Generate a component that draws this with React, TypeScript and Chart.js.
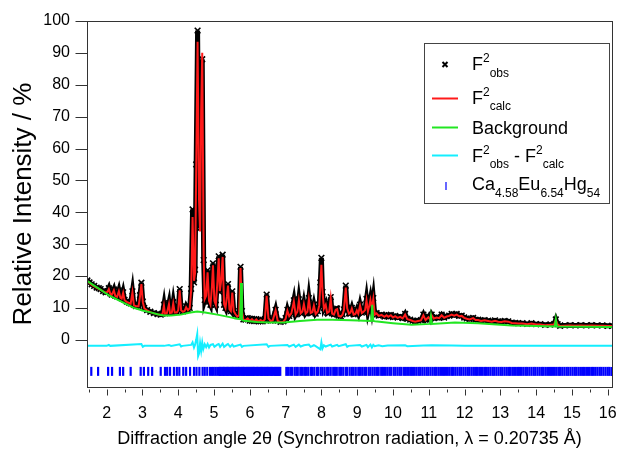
import React, { useEffect, useRef } from 'react';
import { Chart, registerables } from 'chart.js';
Chart.register(...registerables);

const FONT = "'Liberation Sans', Arial, Helvetica, sans-serif";

// 2θ grid of the observed / calculated profile
const obsX = [
  1.46, 1.52, 1.58, 1.65, 1.72, 1.78, 1.83, 1.90, 1.97, 2.02,
  2.06, 2.10, 2.14, 2.20, 2.24, 2.29, 2.34, 2.38, 2.42, 2.46,
  2.50, 2.56, 2.62, 2.67, 2.72, 2.76, 2.82, 2.89, 2.93, 2.97,
  3.01, 3.05, 3.13, 3.22, 3.32, 3.42, 3.51, 3.56, 3.60, 3.63,
  3.68, 3.74, 3.77, 3.82, 3.86, 3.90, 3.96, 4.00, 4.04, 4.08,
  4.13, 4.18, 4.22, 4.27, 4.32, 4.36, 4.40, 4.44, 4.47, 4.50,
  4.54, 4.58, 4.61, 4.64, 4.67, 4.71, 4.74, 4.78, 4.82, 4.86,
  4.90, 4.94, 4.97, 5.01, 5.05, 5.09, 5.13, 5.16, 5.20, 5.24,
  5.28, 5.32, 5.36, 5.39, 5.43, 5.47, 5.51, 5.55, 5.60, 5.65,
  5.70, 5.74, 5.78, 5.82, 5.88, 5.94, 6.00, 6.06, 6.12, 6.18,
  6.24, 6.30, 6.36, 6.42, 6.47, 6.52, 6.58, 6.64, 6.72, 6.78,
  6.86, 6.94, 7.00, 7.05, 7.10, 7.16, 7.23, 7.28, 7.33, 7.37,
  7.42, 7.47, 7.51, 7.56, 7.61, 7.65, 7.70, 7.75, 7.79, 7.84,
  7.90, 7.94, 7.97, 8.00, 8.03, 8.07, 8.12, 8.16, 8.22, 8.26,
  8.30, 8.35, 8.40, 8.44, 8.48, 8.54, 8.59, 8.63, 8.68, 8.72,
  8.77, 8.81, 8.85, 8.90, 8.95, 8.99, 9.03, 9.08, 9.13, 9.17,
  9.22, 9.26, 9.30, 9.34, 9.37, 9.41, 9.45, 9.49, 9.54, 9.60,
  9.68, 9.76, 9.82, 9.87, 9.94, 10.00, 10.06, 10.13, 10.20, 10.27,
  10.34, 10.40, 10.48, 10.55, 10.62, 10.70, 10.78, 10.85, 10.91, 10.99,
  11.04, 11.08, 11.14, 11.22, 11.29, 11.36, 11.43, 11.50, 11.57, 11.64,
  11.71, 11.78, 11.85, 11.92, 11.99, 12.06, 12.14, 12.24, 12.31, 12.38,
  12.46, 12.56, 12.66, 12.76, 12.85, 12.94, 13.03, 13.12, 13.22, 13.32,
  13.42, 13.50, 13.62, 13.75, 13.87, 14.00, 14.12, 14.25, 14.40, 14.50,
  14.55, 14.60, 14.67, 14.80, 14.95, 15.10, 15.25, 15.40, 15.55, 15.70,
  15.85, 16.00, 16.12,
];

// F²obs
const obsY = [
  18.6, 18.0, 17.4, 16.9, 16.4, 16.2, 15.9, 15.3, 14.9, 15.2,
  16.2, 14.6, 14.2, 15.8, 13.9, 13.6, 15.5, 13.3, 13.0, 14.9,
  12.5, 12.0, 11.7, 11.4, 15.2, 11.0, 10.6, 10.6, 14.0, 17.9,
  12.0, 10.0, 9.3, 8.8, 8.4, 8.1, 7.9, 8.2, 11.0, 8.3,
  8.4, 11.5, 8.5, 8.6, 11.8, 8.7, 8.7, 9.5, 15.9, 9.5,
  8.9, 9.2, 10.5, 9.4, 10.0, 16.0, 40.9, 18.0, 22.0, 55.0,
  97.0, 40.0, 35.0, 70.0, 88.0, 25.0, 12.5, 14.0, 21.8, 12.0,
  11.0, 17.0, 24.0, 12.0, 11.0, 18.0, 26.2, 15.0, 19.0, 26.7,
  11.0, 10.0, 14.0, 17.5, 9.5, 9.0, 15.2, 9.0, 8.0, 7.4,
  7.8, 22.9, 9.0, 6.4, 6.3, 6.8, 6.0, 6.6, 5.9, 6.5,
  5.8, 6.3, 5.8, 6.5, 14.2, 6.8, 6.0, 6.2, 9.4, 6.0,
  5.6, 5.8, 6.8, 9.4, 7.5, 8.5, 12.4, 8.0, 9.0, 12.7,
  8.5, 9.0, 11.5, 8.3, 9.0, 13.1, 8.5, 8.8, 11.0, 8.2,
  9.0, 11.0, 18.0, 25.7, 15.0, 10.0, 11.2, 8.5, 9.0, 13.4,
  8.3, 8.0, 9.6, 9.8, 7.6, 7.4, 8.0, 9.5, 17.0, 10.0,
  8.3, 8.6, 10.0, 8.0, 8.2, 9.4, 8.3, 11.0, 8.5, 8.8,
  9.5, 12.8, 9.0, 11.0, 12.8, 9.8, 13.1, 8.0, 8.4, 7.6,
  7.9, 7.3, 7.8, 7.3, 7.8, 7.1, 7.5, 7.0, 7.3, 6.8,
  8.1, 6.6, 6.3, 6.0, 5.8, 6.0, 6.2, 7.9, 6.3, 7.3,
  6.4, 7.9, 6.8, 7.1, 6.9, 7.9, 7.0, 7.4, 7.6, 8.1,
  7.7, 8.1, 7.5, 7.6, 7.0, 6.7, 6.5, 6.9, 6.3, 6.3,
  6.0, 6.2, 6.0, 5.8, 6.1, 5.8, 5.7, 5.9, 5.8, 5.4,
  5.3, 5.2, 5.2, 5.0, 5.2, 4.9, 4.9, 4.7, 4.8, 4.9,
  6.4, 4.9, 4.4, 4.5, 4.6, 4.5, 4.6, 4.5, 4.6, 4.5,
  4.5, 4.4, 4.4,
];

// F²calc
const calcY = [
  18.4, 17.8, 17.2, 16.8, 16.3, 16.0, 15.7, 15.2, 14.8, 15.0,
  15.9, 14.5, 14.1, 15.5, 13.8, 13.5, 15.2, 13.2, 12.9, 14.7,
  12.4, 11.9, 11.6, 11.3, 14.9, 10.9, 10.5, 10.5, 13.5, 17.5,
  11.8, 9.9, 9.2, 8.7, 8.3, 8.0, 7.8, 8.1, 10.7, 8.2,
  8.3, 11.2, 8.4, 8.5, 11.4, 8.6, 8.6, 9.3, 15.5, 9.3,
  8.8, 9.1, 10.2, 9.3, 9.9, 15.5, 38.5, 18.5, 21.0, 52.0,
  93.5, 44.0, 34.0, 72.0, 90.0, 26.0, 12.8, 13.8, 21.2, 12.2,
  11.0, 16.5, 23.4, 12.2, 11.0, 17.5, 25.6, 15.3, 18.6, 26.0,
  11.2, 10.0, 13.6, 17.0, 9.6, 9.0, 14.8, 9.0, 8.0, 7.3,
  7.7, 22.5, 8.8, 6.3, 6.2, 6.7, 5.9, 6.5, 5.8, 6.4,
  5.7, 6.2, 5.7, 6.4, 13.8, 6.7, 5.9, 6.1, 9.2, 5.9,
  5.5, 5.7, 6.6, 9.1, 7.4, 8.3, 12.0, 7.9, 8.8, 12.3,
  8.3, 8.9, 11.2, 8.2, 8.8, 12.7, 8.4, 8.7, 10.7, 8.1,
  8.9, 10.8, 17.0, 23.5, 15.5, 9.8, 11.0, 8.4, 8.9, 13.0,
  8.2, 7.9, 9.4, 9.6, 7.5, 7.3, 7.9, 9.3, 16.4, 9.9,
  8.2, 8.5, 9.8, 7.9, 8.1, 9.2, 8.2, 10.7, 8.4, 8.7,
  9.3, 12.4, 8.9, 10.8, 12.5, 9.7, 12.8, 7.9, 8.3, 7.5,
  7.8, 7.2, 7.7, 7.2, 7.7, 7.0, 7.4, 6.9, 7.2, 6.7,
  7.9, 6.5, 6.2, 5.9, 5.7, 5.9, 6.1, 7.7, 6.2, 7.1,
  6.3, 7.7, 6.7, 7.0, 6.8, 7.7, 6.9, 7.3, 7.5, 7.9,
  7.6, 7.9, 7.4, 7.5, 6.9, 6.6, 6.4, 6.8, 6.2, 6.2,
  5.9, 6.1, 5.9, 5.7, 6.0, 5.7, 5.6, 5.8, 5.7, 5.3,
  5.2, 5.1, 5.1, 4.9, 5.1, 4.8, 4.8, 4.6, 4.7, 4.8,
  6.2, 4.8, 4.3, 4.4, 4.5, 4.4, 4.5, 4.4, 4.5, 4.4,
  4.4, 4.3, 4.3,
];

// Background
const bgX = [
  1.46, 1.65, 1.83, 2.05, 2.30, 2.55, 2.76, 3.00, 3.23, 3.42,
  3.60, 3.80, 4.07, 4.30, 4.53, 4.75, 5.09, 5.40, 5.65, 5.73,
  5.755, 5.78, 5.84, 6.20, 6.49, 6.95, 7.40, 7.88, 8.30, 8.82,
  9.20, 9.39, 9.42, 9.45, 9.50, 10.00, 10.52, 11.03, 11.06, 11.09,
  11.73, 12.38, 12.90, 13.32, 14.00, 14.52, 14.55, 14.58, 15.30, 16.12,
];
const bgY = [
  18.4, 17.0, 15.7, 14.0, 12.6, 11.2, 10.0, 9.2, 8.6, 8.0,
  7.6, 7.6, 7.9, 8.5, 8.9, 8.6, 7.9, 7.2, 6.6, 6.5,
  17.8, 6.3, 6.0, 5.6, 5.4, 5.4, 5.9, 6.3, 6.3, 6.1,
  6.0, 5.9, 11.0, 5.9, 5.8, 5.2, 4.7, 5.0, 7.5, 5.0,
  5.4, 5.2, 4.8, 4.5, 4.3, 4.2, 6.5, 4.2, 4.1, 4.0,
];

// Difference curve (F²obs - F²calc, shown offset below zero)
const diffX = [
  1.46, 2.00, 2.06, 2.10, 2.97, 3.01, 3.05, 3.60, 3.74, 3.80,
  4.04, 4.08, 4.12, 4.36, 4.40, 4.44, 4.47, 4.50, 4.53, 4.555,
  4.58, 4.61, 4.64, 4.67, 4.70, 4.74, 4.78, 4.82, 4.86, 4.90,
  4.97, 5.01, 5.09, 5.13, 5.17, 5.24, 5.28, 5.36, 5.39, 5.45,
  5.51, 5.55, 5.74, 5.78, 5.82, 6.47, 6.52, 6.56, 7.05, 7.10,
  7.23, 7.28, 7.37, 7.42, 7.51, 7.65, 7.70, 7.79, 7.84, 7.97,
  8.00, 8.03, 8.07, 8.12, 8.26, 8.30, 8.44, 8.48, 8.68, 8.72,
  8.76, 9.08, 9.13, 9.26, 9.30, 9.37, 9.41, 9.45, 9.49, 9.60,
  9.70, 9.85, 10.34, 10.40, 10.85, 11.08, 11.64, 12.00, 16.12,
];
const diffY = [
  -1.9, -1.9, -1.6, -1.9, -1.3, -2.2, -1.9, -1.9, -1.6, -1.9,
  -1.4, -2.1, -1.9, -1.6, -0.8, -2.4, -1.5, 0.0, 1.8, -5.1,
  -4.3, -1.0, -3.4, -0.8, -2.9, -1.4, -2.3, -1.3, -2.4, -1.6,
  -1.4, -2.2, -1.5, -1.3, -2.2, -1.2, -2.2, -1.5, -1.3, -2.2,
  -1.5, -2.1, -1.5, -2.2, -1.9, -1.4, -2.2, -1.9, -1.6, -2.1,
  -1.5, -2.2, -1.5, -2.1, -1.7, -1.5, -2.2, -1.7, -2.0, -3.0,
  -0.8, -2.7, -1.7, -2.1, -1.5, -2.1, -1.6, -2.0, -1.4, -2.2,
  -1.9, -1.6, -2.1, -1.6, -2.3, -1.5, -2.4, -1.6, -2.0, -1.7,
  -2.0, -1.8, -1.7, -2.0, -1.8, -1.7, -1.8, -1.9, -1.9,
];

// Bragg reflection positions of Ca4.58Eu6.54Hg54
const reflX = [
  1.57, 1.76, 2.04, 2.15, 2.37, 2.46, 2.67, 2.95, 3.04, 3.16,
  3.27, 3.51, 3.63, 3.69, 3.77, 3.88, 3.96, 4.03, 4.14, 4.22,
  4.33, 4.44, 4.51, 4.59, 4.68, 4.74, 4.81, 4.89, 4.94, 4.99,
  5.04, 5.09, 5.14, 5.17, 5.19, 5.23, 5.26, 5.28, 5.32, 5.35,
  5.38, 5.40, 5.44, 5.47, 5.50, 5.53, 5.55, 5.59, 5.62, 5.65,
  5.68, 5.70, 5.74, 5.77, 5.80, 5.83, 5.85, 5.89, 5.92, 5.95,
  5.98, 6.01, 6.04, 6.07, 6.10, 6.12, 6.16, 6.19, 6.22, 6.24,
  6.28, 6.31, 6.34, 6.36, 6.40, 6.43, 6.46, 6.49, 6.51, 6.55,
  6.58, 6.61, 6.63, 6.67, 6.70, 6.73, 6.76, 6.79, 6.82, 6.85,
  7.02, 7.07, 7.13, 7.18, 7.25, 7.30, 7.34, 7.41, 7.46, 7.52,
  7.57, 7.63, 7.70, 7.74, 7.80, 7.87, 7.91, 7.98, 8.03, 8.09,
  8.16, 8.20, 8.26, 8.33, 8.38, 8.43, 8.50, 8.55, 8.61, 8.68,
  8.72, 8.79, 8.85, 8.90, 8.96, 9.03, 9.08, 9.14, 9.20, 9.25,
  9.32, 9.37, 9.43, 9.49, 9.55, 9.60, 9.67, 9.72, 9.78, 9.84,
  9.90, 9.95, 10.02, 10.07, 10.13, 10.19, 10.24, 10.31, 10.36, 10.42,
  10.48, 10.53, 10.59, 10.65, 10.71, 10.76, 10.82, 10.88, 10.94, 10.99,
  11.05, 11.11, 11.17, 11.22, 11.28, 11.34, 11.40, 11.45, 11.51, 11.57,
  11.63, 11.68, 11.74, 11.80, 11.86, 11.91, 11.97, 12.03, 12.09, 12.14,
  12.20, 12.26, 12.32, 12.37, 12.43, 12.49, 12.55, 12.60, 12.66, 12.72,
  12.78, 12.83, 12.89, 12.95, 13.01, 13.06, 13.12, 13.18, 13.24, 13.29,
  13.35, 13.41, 13.47, 13.52, 13.58, 13.64, 13.70, 13.75, 13.81, 13.87,
  13.93, 13.98, 14.04, 14.10, 14.16, 14.21, 14.27, 14.33, 14.39, 14.44,
  14.50, 14.56, 14.62, 14.67, 14.73, 14.79, 14.85, 14.90, 14.96, 15.02,
  15.08, 15.13, 15.19, 15.25, 15.31, 15.36, 15.42, 15.48, 15.54, 15.59,
  15.65, 15.71, 15.77, 15.82, 15.88, 15.94, 16.00, 16.05, 16.11,
];
const reflLevel = -9.9;

const xTicks = [2, 3, 4, 5, 6, 7, 8, 9, 10, 11, 12, 13, 14, 15, 16];
const xMinorTicks = [1.5, 2.5, 3.5, 4.5, 5.5, 6.5, 7.5, 8.5, 9.5, 10.5, 11.5, 12.5, 13.5, 14.5, 15.5];
const yTicks = [0, 10, 20, 30, 40, 50, 60, 70, 80, 90, 100];

const xTitle = 'Diffraction angle 2θ (Synchrotron radiation, λ = 0.20735 Å)';
const yTitle = 'Relative Intensity / %';

// legend text runs: [text, 0 = normal, 1 = superscript, -1 = subscript]
type Run = [string, number];
const legendObs: Run[] = [['F', 0], ['2', 1], ['obs', -1]];
const legendCalc: Run[] = [['F', 0], ['2', 1], ['calc', -1]];
const legendBg: Run[] = [['Background', 0]];
const legendDiff: Run[] = [['F', 0], ['2', 1], ['obs', -1], [' - ', 0], ['F', 0], ['2', 1], ['calc', -1]];
const legendPhase: Run[] = [['Ca', 0], ['4.58', -1], ['Eu', 0], ['6.54', -1], ['Hg', 0], ['54', -1]];

const C_OBS = '#000000';
const C_CALC = '#ff1a1a';
const C_BG = '#22e622';
const C_DIFF = '#14eeff';
const C_REFL = '#0000ff';

function drawRuns(ctx: CanvasRenderingContext2D, x: number, base: number, runs: Run[]) {
  for (const [t, k] of runs) {
    const size = k === 0 ? 18 : 12;
    const dy = k === 1 ? -8 : k === -1 ? 6.5 : 0;
    ctx.font = `${size}px ${FONT}`;
    ctx.fillText(t, x, base + dy);
    x += ctx.measureText(t).width;
  }
}

export default function App() {
  const ref = useRef<HTMLCanvasElement | null>(null);

  useEffect(() => {
    if (!ref.current) return;
    const pts = (xs: number[], ys: number[]) => xs.map((x, i) => ({ x, y: ys[i] }));

    const framePlugin = {
      id: 'frameTicks',
      afterDatasetsDraw(chart: any) {
        const { ctx, chartArea: a, scales } = chart;
        const xs = scales.x;
        const ys = scales.y;
        ctx.save();
        ctx.strokeStyle = '#333';
        ctx.lineWidth = 1;
        const L = Math.round(a.left) + 0.5;
        const T = Math.round(a.top) + 0.5;
        const R = Math.round(a.right) + 0.5;
        const B = Math.round(a.bottom) + 0.5;
        ctx.strokeRect(L, T, R - L, B - T);
        ctx.beginPath();
        for (const v of yTicks) {
          const py = Math.round(ys.getPixelForValue(v)) + 0.5;
          ctx.moveTo(L - 12, py);
          ctx.lineTo(L, py);
        }
        for (const v of xTicks) {
          const px = Math.round(xs.getPixelForValue(v)) + 0.5;
          ctx.moveTo(px, B + 2);
          ctx.lineTo(px, B + 8);
        }
        for (const v of xMinorTicks) {
          const px = Math.round(xs.getPixelForValue(v)) + 0.5;
          ctx.moveTo(px, B + 2);
          ctx.lineTo(px, B + 5);
        }
        ctx.stroke();
        ctx.restore();
      },
    };

    const legendPlugin = {
      id: 'customLegend',
      afterDraw(chart: any) {
        const ctx: CanvasRenderingContext2D = chart.ctx;
        ctx.save();
        ctx.fillStyle = '#fff';
        ctx.fillRect(424.5, 43.5, 185, 160);
        ctx.strokeStyle = '#444';
        ctx.lineWidth = 1;
        ctx.strokeRect(424.5, 43.5, 185, 160);
        const tx = 472;
        ctx.strokeStyle = C_OBS;
        ctx.lineWidth = 2;
        ctx.beginPath();
        ctx.moveTo(442.5, 62); ctx.lineTo(447.5, 67);
        ctx.moveTo(447.5, 62); ctx.lineTo(442.5, 67);
        ctx.stroke();
        const line = (c: string, y: number) => {
          ctx.strokeStyle = c; ctx.lineWidth = 2;
          ctx.beginPath(); ctx.moveTo(432, y); ctx.lineTo(458, y); ctx.stroke();
        };
        line(C_CALC, 98.5);
        line(C_BG, 127.5);
        line(C_DIFF, 155.5);
        ctx.strokeStyle = C_REFL; ctx.lineWidth = 1.2;
        ctx.beginPath(); ctx.moveTo(446, 182); ctx.lineTo(446, 190); ctx.stroke();
        ctx.fillStyle = '#000';
        ctx.textBaseline = 'alphabetic';
        ctx.textAlign = 'left';
        drawRuns(ctx, tx, 70, legendObs);
        drawRuns(ctx, tx, 103.5, legendCalc);
        drawRuns(ctx, tx, 133.5, legendBg);
        drawRuns(ctx, tx, 161.5, legendDiff);
        drawRuns(ctx, tx, 190, legendPhase);
        ctx.restore();
      },
    };

    const chart = new Chart(ref.current, {
      type: 'scatter',
      data: {
        datasets: [
          {
            label: 'obs',
            data: pts(obsX, obsY),
            showLine: true,
            borderColor: C_OBS,
            borderWidth: 5,
            pointStyle: 'crossRot',
            pointRadius: 4,
            pointBorderWidth: 1.6,
            pointBorderColor: C_OBS,
            pointBackgroundColor: C_OBS,
            order: 5,
          },
          {
            label: 'calc',
            data: pts(obsX, calcY),
            showLine: true,
            borderColor: C_CALC,
            borderWidth: 2,
            pointRadius: 0,
            order: 4,
          },
          {
            label: 'bg',
            data: pts(bgX, bgY),
            showLine: true,
            borderColor: C_BG,
            borderWidth: 2,
            pointRadius: 0,
            order: 3,
          },
          {
            label: 'diff',
            data: pts(diffX, diffY),
            showLine: true,
            borderColor: C_DIFF,
            borderWidth: 2,
            pointRadius: 0,
            order: 2,
          },
          {
            label: 'refl',
            data: reflX.map((x) => ({ x, y: reflLevel })),
            showLine: false,
            pointStyle: 'line',
            pointRotation: 90,
            pointRadius: 4.5,
            pointBorderWidth: 2.2,
            pointBorderColor: C_REFL,
            pointBackgroundColor: C_REFL,
            order: 1,
          },
        ],
      },
      options: {
        responsive: false,
        animation: false,
        events: [],
        layout: { padding: { top: 21, right: 8, left: 0, bottom: 0 } },
        plugins: { legend: { display: false }, tooltip: { enabled: false } },
        scales: {
          x: {
            type: 'linear',
            min: 1.45,
            max: 16.12,
            grid: { display: false, drawTicks: false },
            border: { display: false },
            afterBuildTicks: (s: any) => { s.ticks = xTicks.map((v) => ({ value: v })); },
            afterFit: (s: any) => { s.height = 64; s.paddingLeft = 0; s.paddingRight = 0; },
            ticks: {
              autoSkip: false,
              maxRotation: 0,
              padding: 17,
              color: '#000',
              font: { size: 16, family: FONT },
              callback: (v: any) => String(v),
            },
            title: {
              display: true,
              text: xTitle,
              color: '#000',
              font: { size: 18, family: FONT },
              padding: { top: 0, bottom: 1 },
            },
          },
          y: {
            type: 'linear',
            min: -14.8,
            max: 100,
            grid: { display: false, drawTicks: false },
            border: { display: false },
            afterBuildTicks: (s: any) => { s.ticks = yTicks.map((v) => ({ value: v })); },
            afterFit: (s: any) => { s.width = 87; s.paddingTop = 0; s.paddingBottom = 0; },
            ticks: {
              padding: 17,
              color: '#000',
              font: { size: 16, family: FONT },
              callback: (v: any) => String(v),
            },
            title: {
              display: true,
              text: yTitle,
              color: '#000',
              font: { size: 26, family: FONT },
              padding: { top: 8, bottom: 0 },
            },
          },
        },
      },
      plugins: [framePlugin, legendPlugin],
    } as any);

    return () => chart.destroy();
  }, []);

  return (
    <div style={{ position: 'absolute', left: 0, top: 0, width: 620, height: 451, background: '#fff' }}>
      <canvas ref={ref} width={620} height={451} style={{ display: 'block' }} />
    </div>
  );
}
